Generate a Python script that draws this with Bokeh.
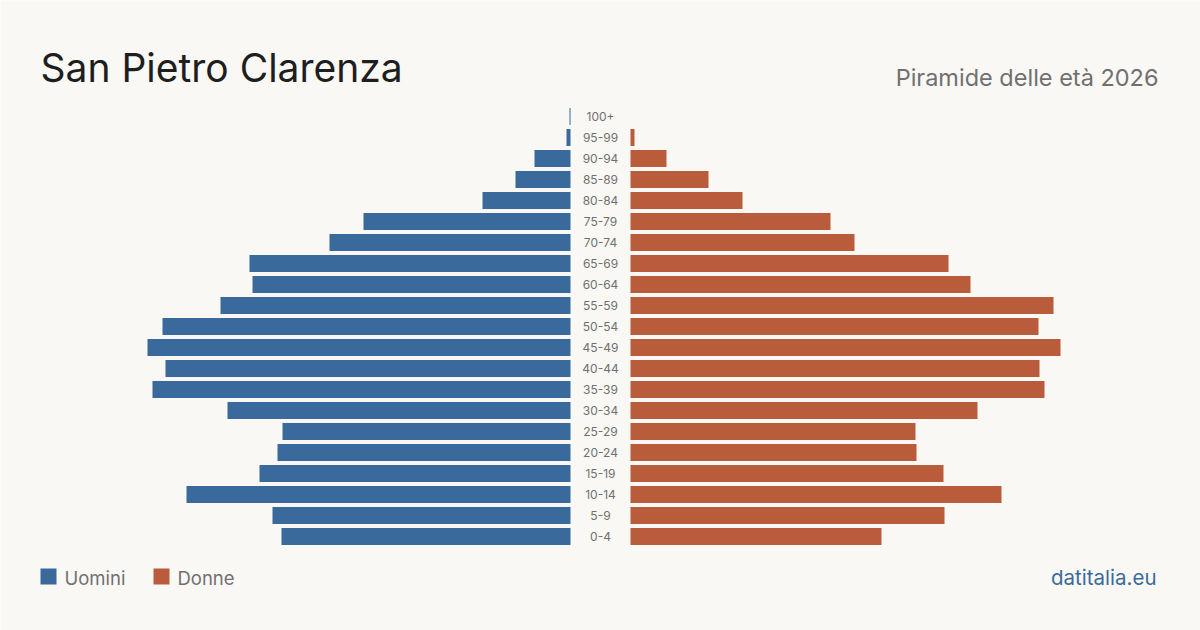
from bokeh.plotting import figure
from bokeh.models import Range1d, ColumnDataSource
from bokeh.core.properties import value
from bokeh.embed import file_html
from bokeh.resources import INLINE

# ---- data (arbitrary length units) ----
age_groups = ["0-4", "5-9", "10-14", "15-19", "20-24", "25-29", "30-34", "35-39",
              "40-44", "45-49", "50-54", "55-59", "60-64", "65-69", "70-74",
              "75-79", "80-84", "85-89", "90-94", "95-99", "100+"]
men = [289, 298, 384, 311, 293, 288, 343, 418, 405, 423, 408, 350, 318, 321,
       241, 207, 88, 55, 36, 4, 1]
women = [251, 314, 371, 313, 286, 285, 347, 414, 409, 430, 408, 423, 340, 318,
         224, 200, 112, 78, 36, 4, 0]

title = "San Pietro Clarenza"
subtitle = "Piramide delle età 2026"
legend_labels = ["Uomini", "Donne"]
brand = "datitalia.eu"

BLUE = "#3a6a9b"
ORANGE = "#b95c3c"
BG = "#f9f8f4"
FONT = "Inter"

# layout (pixels)
W, H = 1200, 630
AXIS_L, AXIS_R = 570, 630
ROW0, STEP, BAR_H = 536, 21, 17

p = figure(width=W, height=H, x_range=Range1d(0, W), y_range=Range1d(H, 0),
           output_backend="svg", toolbar_location=None, min_border=0,
           background_fill_color=BG, border_fill_color=BG)
p.axis.visible = False
p.grid.visible = False
p.outline_line_color = None

ys = [ROW0 - STEP * i for i in range(len(age_groups))]
src = ColumnDataSource(dict(
    y=ys, age=age_groups,
    ml=[AXIS_L - m for m in men], mr=[AXIS_L] * len(men),
    wl=[AXIS_R] * len(women), wr=[AXIS_R + w for w in women],
))
p.hbar(y="y", left="ml", right="mr", height=BAR_H, source=src,
       fill_color=BLUE, line_color=None)
p.hbar(y="y", left="wl", right="wr", height=BAR_H, source=src,
       fill_color=ORANGE, line_color=None)
p.text(x=(AXIS_L + AXIS_R) / 2, y="y", text="age", source=src,
       text_font=value(FONT), text_font_size="12px", text_color="#707070",
       text_align="center", text_baseline="middle")

# titles
p.text(x=[40], y=[67], text=[title], text_font=value(FONT),
       text_font_size="39px", text_color="#1e1e1e",
       text_align="left", text_baseline="middle")
p.text(x=[1158], y=[77], text=[subtitle], text_font=value(FONT),
       text_font_size="23.5px", text_color="#707070",
       text_align="right", text_baseline="middle")

# legend
p.rect(x=[48, 161], y=[576, 576], width=16, height=16,
       fill_color=[BLUE, ORANGE], line_color=None)
p.text(x=[64, 177], y=[577, 577], text=legend_labels, text_font=value(FONT),
       text_font_size="18.5px", text_color="#707070",
       text_align="left", text_baseline="middle")

p.text(x=[1156], y=[577], text=[brand], text_font=value(FONT),
       text_font_size="20.5px", text_color="#3a6a9b",
       text_align="right", text_baseline="middle")

open("out.html", "w").write(file_html(p, INLINE))
